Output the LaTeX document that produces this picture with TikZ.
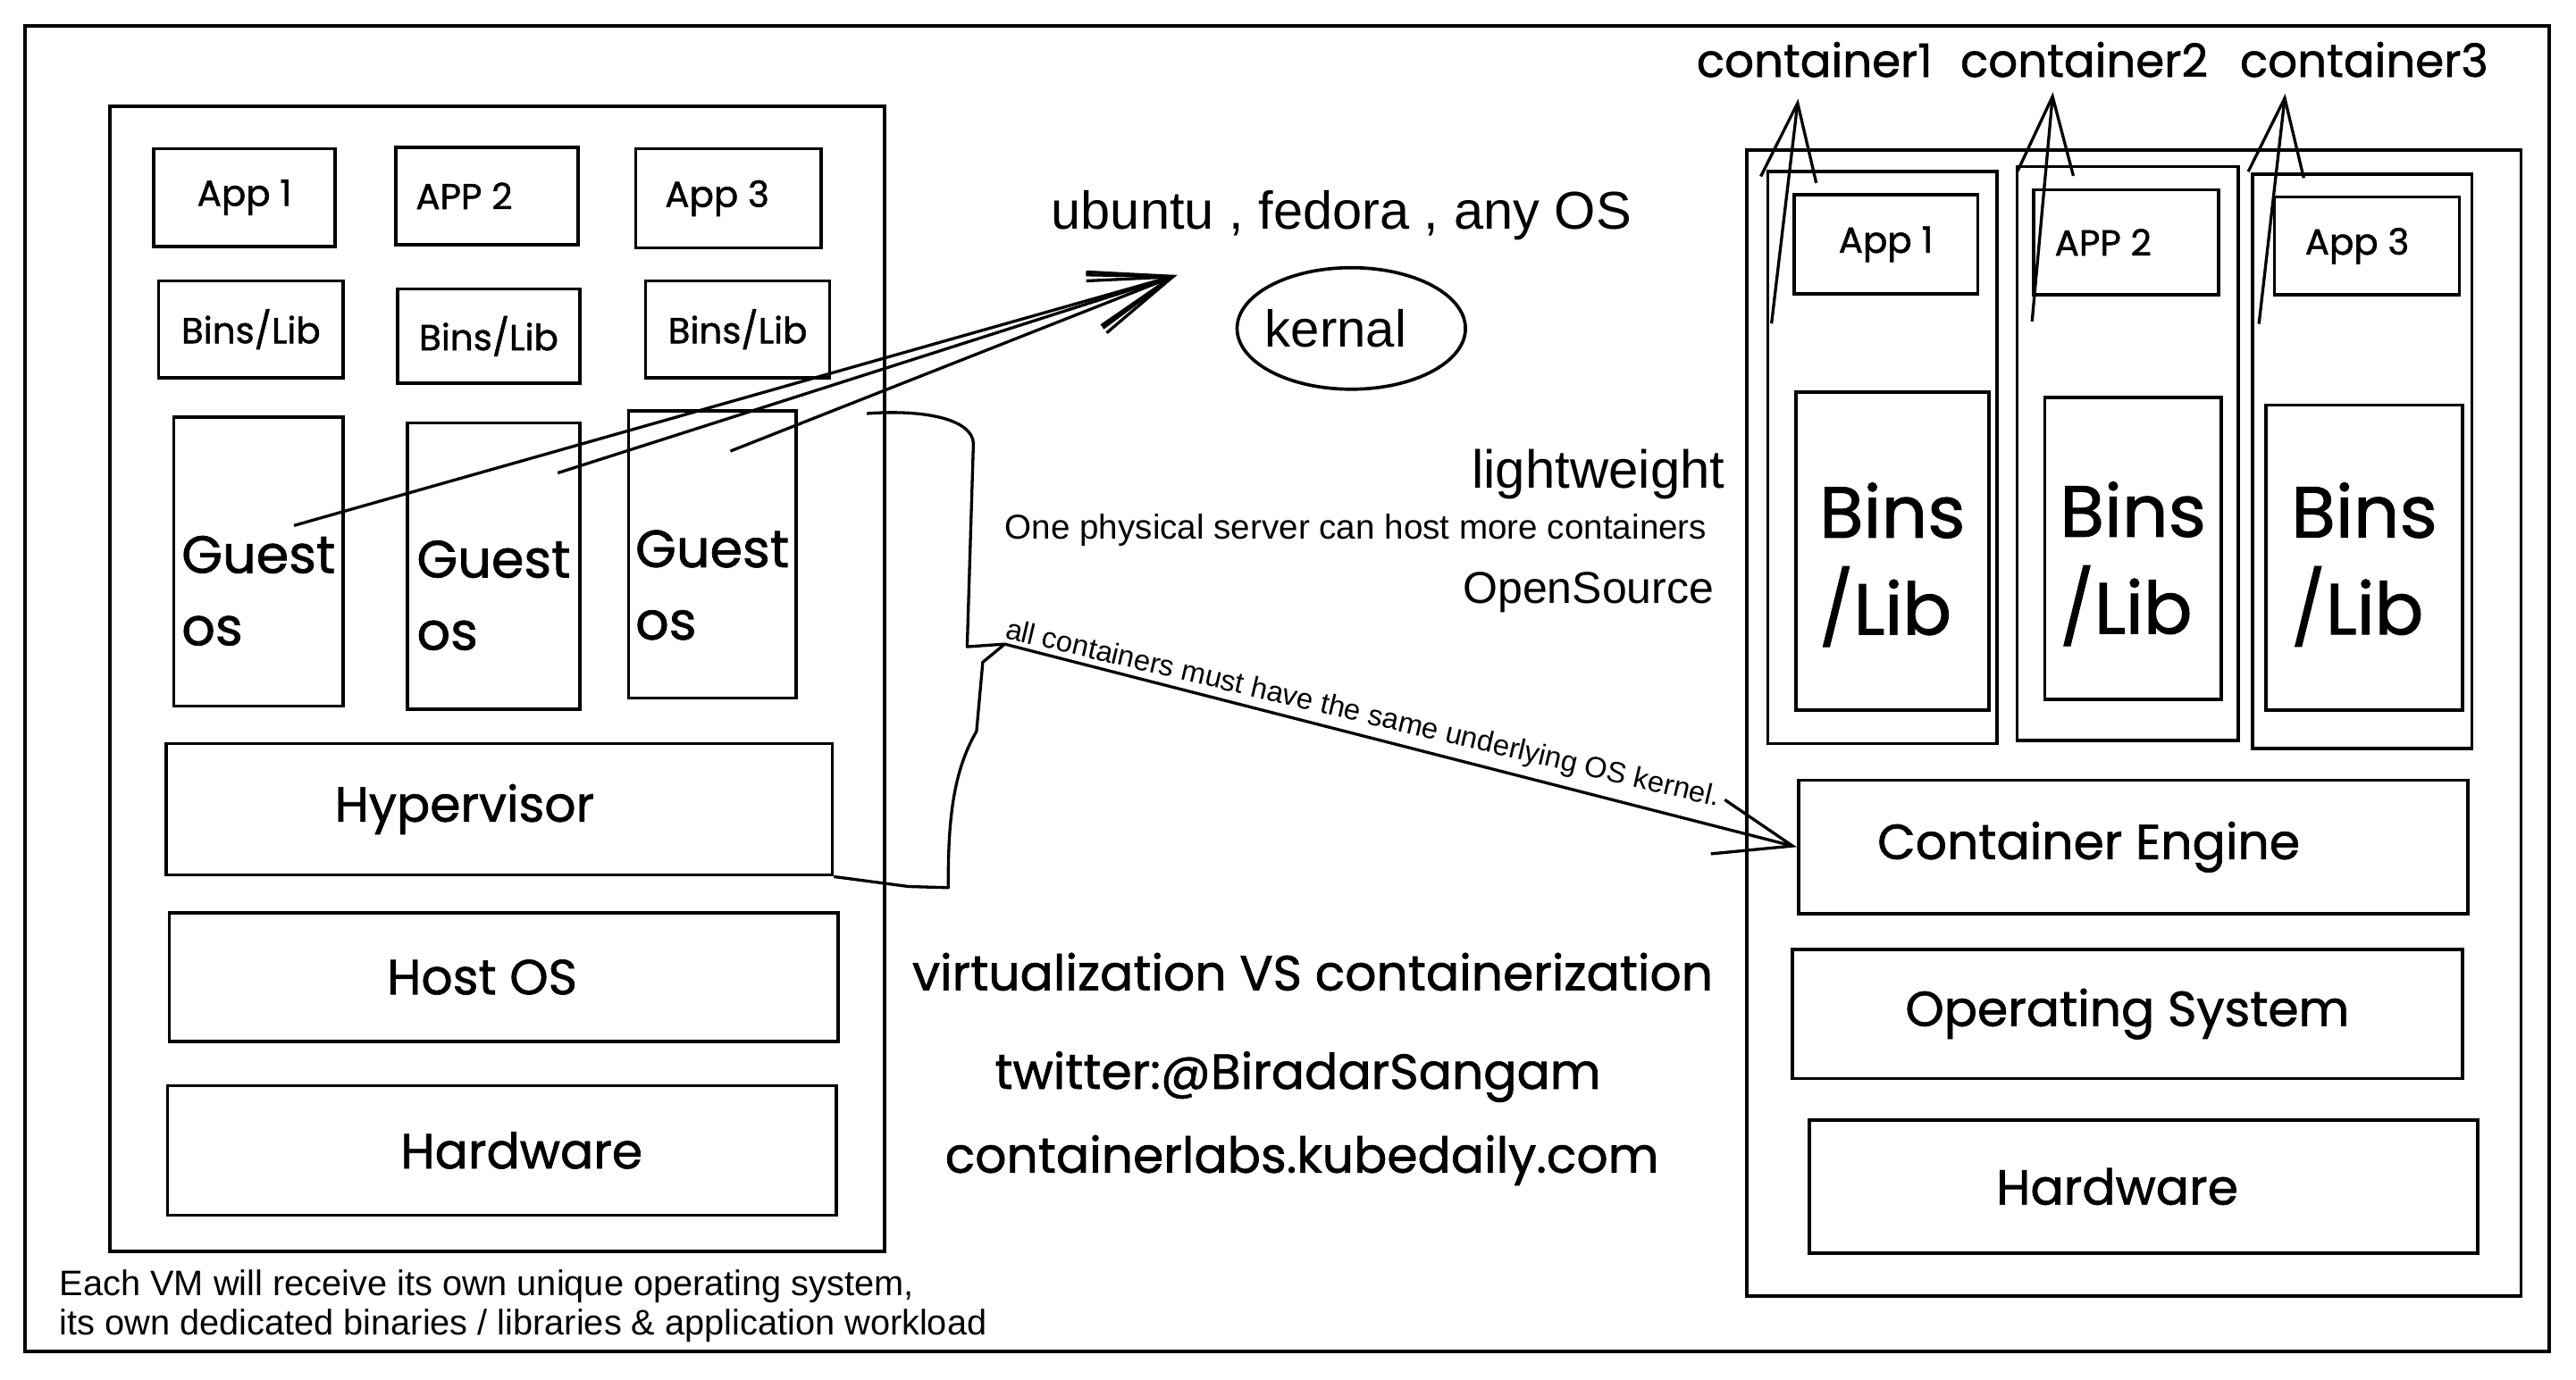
\documentclass[tikz,border=0pt]{standalone}
\usepackage{fontspec}
\setmainfont{Liberation Sans}
\newfontfamily\handfont[RawFeature={embolden=1.2}]{Poppins}
\usetikzlibrary{arrows.meta,shapes.geometric,calc}

\newcommand\bx[7][]{%
  \node[box,#1,minimum width={(#5-#3)*0.5pt},minimum height={(#6-#4)*0.5pt}]
    (#2) at ({(#3+#5)/2},{(#4+#6)/2}) {#7};}
% shift node text horizontally by #1 (in pt; 1pt = 1 px of the 1568-wide view)
\newcommand\sh[2]{\hspace*{#1}#2}

\begin{document}
\begin{tikzpicture}[x=0.5pt,y=-0.5pt,
  box/.style={draw, line width=1pt, inner sep=0pt},
  outerframe/.style={draw, line width=1pt},
  hand11/.style={font=\handfont\fontsize{11}{13}\selectfont},
  hand14/.style={font=\handfont\fontsize{14}{17}\selectfont},
  hand15/.style={font=\handfont\fontsize{15}{18}\selectfont},
  guest/.style={font=\handfont\fontsize{16}{22}\selectfont, align=left},
  bigbins/.style={font=\handfont\fontsize{22}{29.5}\selectfont, align=left},
  arrA/.style={line width=0.9pt, -{Straight Barb[length=25pt,width=17pt]}},
  arrB/.style={line width=0.9pt, -{Straight Barb[length=23.5pt,width=17pt]}},
  plain/.style={line width=0.9pt, line join=round}
]
\fill[white] (0,0) rectangle (1568,840);
\useasboundingbox (0,0) rectangle (1568,840);
\draw[outerframe] (15.3,15.6) rectangle (1551.6,822.7);

% ---------------- VM side ----------------
\bx{vm}{67}{64.6}{538.5}{762}{}
\bx[hand11]{a1}{93.5}{90.5}{204}{150}{App 1}
\bx[hand11]{a2}{241}{89.6}{352}{149}{\sh{-14pt}{APP 2}}
\bx[hand11]{a3}{387}{90.5}{500}{151}{\sh{-7pt}{App 3}}
\bx[hand11]{b1}{96.5}{171}{209}{230}{Bins/Lib}
\bx[hand11]{b2}{242}{176}{353}{233.5}{Bins/Lib}
\bx[hand11]{b3}{393}{171}{505}{230}{Bins/Lib}
\bx[guest]{g1}{105.7}{254}{209}{430}{\rule{0pt}{29pt}Guest\\os}
\bx[guest]{g2}{248}{257.6}{353}{432}{\rule{0pt}{29pt}Guest\\os}
\bx[guest]{g3}{382.6}{250}{484.5}{425}{\rule{0pt}{30pt}Guest\\os}
\bx[hand15]{hyp}{101}{452.7}{506.6}{532.8}{\sh{-21pt}{Hypervisor}}
\bx[hand15]{host}{103}{556}{510}{634}{\sh{-13pt}{Host OS}}
\bx[hand15]{hw1}{102}{661}{509}{740}{\sh{12pt}{Hardware}}

\node[anchor=north west, align=left, inner sep=0pt,
      font=\fontsize{10.8}{12}\selectfont] (cap) at (36,773)
  {Each VM will receive its own unique operating system,\\
   its own dedicated binaries / libraries \& application workload};

% ---------------- Container side ----------------
\bx{cbox}{1063.3}{91.5}{1534.6}{789}{}
\bx{col1}{1076}{104.6}{1215.7}{452.7}{}
\bx{col2}{1227.7}{101.5}{1362.4}{451}{}
\bx{col3}{1371}{106}{1504.6}{455.8}{}
\bx[hand11]{ca1}{1092}{118.6}{1203.8}{179}{App 1}
\bx[hand11]{ca2}{1237.9}{115.5}{1350.4}{179.5}{\sh{-14pt}{APP 2}}
\bx[hand11]{ca3}{1384.5}{120}{1497}{179.5}{\sh{-6pt}{App 3}}
\bx[bigbins]{cb1}{1093}{238.8}{1210.6}{432.4}{\rule{0pt}{25pt}Bins\\/Lib}
\bx[bigbins]{cb2}{1244.7}{242}{1352}{426}{\rule{0pt}{26pt}Bins\\/Lib}
\bx[bigbins]{cb3}{1379.4}{246.6}{1498.8}{432.4}{\rule{0pt}{21pt}Bins\\/Lib}
\bx[hand15]{ce}{1094.7}{475}{1502}{556.5}{\sh{-27pt}{Container Engine}}
\bx[hand15]{os}{1091}{578}{1498.8}{656.8}{Operating System}
\bx[hand15]{hw2}{1101.5}{682}{1508}{763}{\sh{-16pt}{Hardware}}

\node[hand14, anchor=base] (l1) at (1104.5,46.8) {container1};
\node[hand14, anchor=base] (l2) at (1268.6,46.8) {container2};
\node[hand14, anchor=base] (l3) at (1439,46.8) {container3};

\draw[arrB] ($(col1.north west)+(3.3,93.4)$) -- ($(l1.south)+(-10,6)$);
\draw[arrB] ($(col2.north west)+(10.2,95.2)$) -- ($(l2.south)+(-19,2)$);
\draw[arrB] ($(col3.north west)+(5,92.2)$) -- ($(l3.south)+(-48,3)$);

% ---------------- middle texts ----------------
\node[anchor=base, font=\fontsize{16.2}{19}\selectfont] (ubuntu) at (816.5,139.4) {ubuntu , fedora , any OS};
\node[draw, ellipse, line width=1pt, minimum width=69.5pt, minimum height=37pt,
      inner sep=0pt, font=\fontsize{15.8}{19}\selectfont] (kernal) at (822.5,200) {\sh{-9.5pt}{kernal}};
\node[anchor=base east, font=\fontsize{16.3}{19}\selectfont] (lw) at (1057,297) {lightweight};
\node[anchor=base east, font=\fontsize{10.5}{12}\selectfont] (phys) at (1046,328) {One physical server can host more containers};
\node[anchor=base east, font=\fontsize{13.6}{16}\selectfont] (oss) at (1050.3,367.3) {OpenSource};

\node[hand15, anchor=base] (vs) at (799,603) {virtualization VS containerization};
\node[hand15, anchor=base] (tw) at (790,663) {twitter:@BiradarSangam};
\node[hand15, anchor=base] (cl) at (792.5,714) {containerlabs.kubedaily.com};

% ---------------- arrows to the OS text ----------------
\coordinate (osTip) at (716.5,167.5);
\draw[arrA] ($(g1.center)+(21.6,-22)$) -- (osTip);
\draw[arrA] ($(g2.center)+(39,-56.8)$) -- (osTip);
\draw[arrA] ($(g3.center)+(11,-62.8)$) -- (osTip);

% ---------------- brace and kernel arrow ----------------
\coordinate (bt) at (611.6,392.2);
\draw[plain] (527.6,251.8) .. controls (565,249) and (592,256) .. (592.5,270)
  -- (588.7,393.8) -- (bt) -- (598.2,403.2) -- (594.4,445.3)
  .. controls (580,470) and (577,500) .. (577.2,540.5) -- (553,539.8) -- (hyp.south east);
\draw[arrB] (bt) -- (ce.west);
\node[anchor=base, rotate=-13.3, font=\fontsize{8.9}{10}\selectfont] (note) at (828.5,439.8)
  {all containers must have the same underlying OS kernel.};
\end{tikzpicture}
\end{document}
